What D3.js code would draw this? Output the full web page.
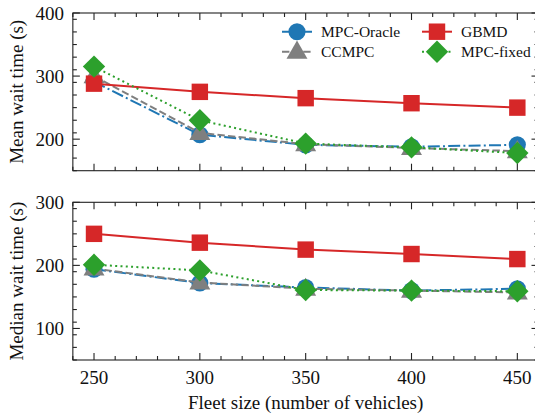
<!DOCTYPE html>
<html><head><meta charset="utf-8">
<script src="https://cdn.jsdelivr.net/npm/d3@7"></script>
<style>body{margin:0;background:#fff}svg{display:block}text{font-family:"Liberation Serif","DejaVu Serif",serif}</style>
</head><body><svg id="c" width="535" height="416"></svg>
<script>
const fleet = [250, 300, 350, 400, 450];
const seriesNames = ["MPC-Oracle", "CCMPC", "GBMD", "MPC-fixed"];
const meanOracle = [291, 207, 191, 188, 191];
const meanCCMPC = [300, 210, 192, 186, 181];
const meanGBMD = [288, 275, 265, 257, 250];
const meanFixed = [315, 230, 193, 187, 178];
const medOracle = [194, 172, 165, 160, 163];
const medCCMPC = [195, 173, 163, 160, 157];
const medGBMD = [250, 236, 225, 218, 210];
const medFixed = [201, 192, 161, 160, 159];
const xTicks = [250, 300, 350, 400, 450];
const yTicksTop = [200, 300, 400];
const yTicksBot = [100, 200, 300];

const styles = [
  {color:"#1f77b4", dash:"12,3.2,2,3.2", marker:"circle"},
  {color:"#7f7f7f", dash:"7.4,3.2", marker:"triangle"},
  {color:"#d62728", dash:null, marker:"square"},
  {color:"#2ca02c", dash:"2,3.3", marker:"diamond"}
];

const svg = d3.select("#c");
const x = d3.scaleLinear().domain([240, 460]).range([72.85, 538.5]);

function markerPath(type){
  const sym = {circle:d3.symbolCircle, triangle:d3.symbolTriangle, square:d3.symbolSquare, diamond:d3.symbolSquare}[type];
  const size = {circle:230, triangle:190, square:270, diamond:250}[type];
  return d3.symbol().type(sym).size(size)();
}
function drawMarker(g, type, cx, cy, color){
  const p = g.append("path").attr("d", markerPath(type)).attr("fill", color);
  if(type==="diamond") p.attr("transform", `translate(${cx},${cy}) rotate(45)`);
  else if(type==="triangle") p.attr("transform", `translate(${cx},${cy+1})`);
  else p.attr("transform", `translate(${cx},${cy})`);
}

function panel(top, bottom, domain, yTicks, data, label){
  const y = d3.scaleLinear().domain(domain).range([bottom, top]);
  const g = svg.append("g");
  data.forEach((vals, i) => {
    const st = styles[i];
    const line = d3.line().x((d,j)=>x(fleet[j])).y(d=>y(d));
    const p = g.append("path").datum(vals).attr("d", line).attr("fill","none")
      .attr("stroke", st.color).attr("stroke-width", 2);
    if(st.dash) p.attr("stroke-dasharray", st.dash);
    vals.forEach((v,j)=>drawMarker(g, st.marker, x(fleet[j]), y(v), st.color));
  });
  const minorX = d3.range(240, 461, 10).filter(v=>!xTicks.includes(v));
  const minorY = d3.range(domain[0], domain[1]+1, 20).filter(v=>!yTicks.includes(v));
  const ax = svg.append("g").attr("stroke","#222").attr("stroke-width",1.1);
  ax.append("rect").attr("x", x.range()[0]).attr("y", top).attr("width", x.range()[1]-x.range()[0]).attr("height", bottom-top).attr("fill","none");
  xTicks.forEach(v=>{
    ax.append("line").attr("x1",x(v)).attr("x2",x(v)).attr("y1",bottom).attr("y2",bottom-7);
    ax.append("line").attr("x1",x(v)).attr("x2",x(v)).attr("y1",top).attr("y2",top+7);
  });
  minorX.forEach(v=>{
    ax.append("line").attr("x1",x(v)).attr("x2",x(v)).attr("y1",bottom).attr("y2",bottom-4);
    ax.append("line").attr("x1",x(v)).attr("x2",x(v)).attr("y1",top).attr("y2",top+4);
  });
  const xl = x.range()[0], xr = x.range()[1];
  yTicks.forEach(v=>{
    ax.append("line").attr("x1",xl).attr("x2",xl+7).attr("y1",y(v)).attr("y2",y(v));
    ax.append("line").attr("x1",xr).attr("x2",xr-7).attr("y1",y(v)).attr("y2",y(v));
  });
  minorY.forEach(v=>{
    ax.append("line").attr("x1",xl).attr("x2",xl+4).attr("y1",y(v)).attr("y2",y(v));
    ax.append("line").attr("x1",xr).attr("x2",xr-4).attr("y1",y(v)).attr("y2",y(v));
  });
  yTicks.forEach(v=>{
    svg.append("text").attr("x", 64).attr("y", y(v)).attr("dy","0.35em").attr("text-anchor","end")
      .attr("font-size",19).attr("fill","#111").text(v);
  });
  svg.append("text").attr("transform",`translate(23,${(top+bottom)/2}) rotate(-90)`)
    .attr("text-anchor","middle").attr("font-size",19).attr("fill","#111").text(label);
  return y;
}

panel(13, 170.7, [150, 400], yTicksTop, [meanOracle, meanCCMPC, meanGBMD, meanFixed], "Mean wait time (s)");
panel(202.3, 360, [50, 300], yTicksBot, [medOracle, medCCMPC, medGBMD, medFixed], "Median wait time (s)");

xTicks.forEach(v=>{
  svg.append("text").attr("x", x(v)).attr("y", 377).attr("dy","0.35em").attr("text-anchor","middle")
    .attr("font-size",19).attr("fill","#111").text(v);
});
svg.append("text").attr("x", (72.85+538.5)/2).attr("y", 402).attr("dy","0.35em").attr("text-anchor","middle")
  .attr("font-size",19).attr("fill","#111").text("Fleet size (number of vehicles)");

const leg = svg.append("g");
const legPos = [[282, 31.7], [282, 51.7], [422, 31.7], [422, 51.7]];
seriesNames.forEach((name, i)=>{
  const st = styles[i];
  const [lx, ly] = legPos[i];
  const l = leg.append("line").attr("x1", lx).attr("x2", lx+30).attr("y1", ly).attr("y2", ly)
    .attr("stroke", st.color).attr("stroke-width", 2);
  if(st.dash) l.attr("stroke-dasharray", st.dash);
  drawMarker(leg, st.marker, lx+15, ly, st.color);
  leg.append("text").attr("x", lx+39).attr("y", ly).attr("dy","0.35em").attr("font-size",15.5).attr("fill","#111").text(name);
});
</script></body></html>
